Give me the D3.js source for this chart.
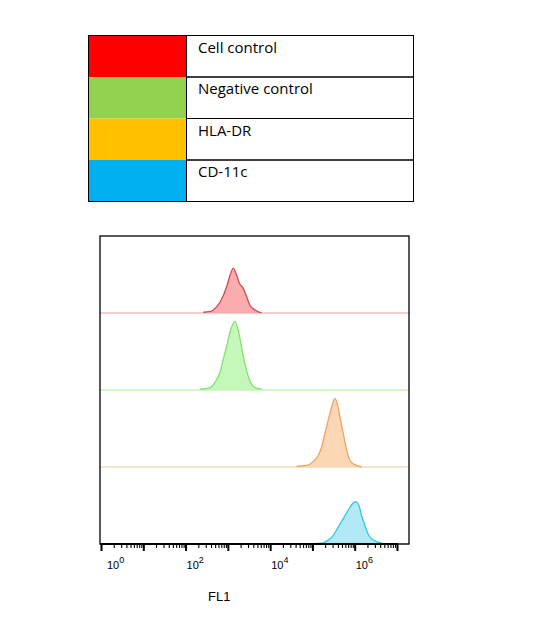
<!DOCTYPE html>
<html lang="en">
	<head>
		<meta charset="utf-8">
		<title>Flow cytometry histograms</title>
		<script type="text/javascript" src="https://cdn.jsdelivr.net/npm/d3@7"></script>
		<style type="text/css">
			body {
				margin: 0;
				background: white;
				}
			.legend text {
				font-family: "Open Sans", sans-serif;
				font-size: 15px;
				fill: black;
				}
			.axis text {
				font-family: "Liberation Sans", Arial, sans-serif;
				font-size: 11px;
				fill: black;
				}
		</style>
	</head>
	<body>
		<script type="text/javascript">

			var w = 536;
			var h = 635;

			// legend entries
			var series = ["Cell control", "Negative control", "HLA-DR", "CD-11c"];
			var legendColors = ["#ff0000", "#92d050", "#ffc000", "#00b0f0"];

			// histogram points: FL1 value and count (0-100 per panel)
			var cellFL1 = [262, 378, 452, 651, 937, 1122, 1342, 1615, 1862, 2314, 2782, 3327, 4371, 6295];
			var cellCount = [1, 2, 4, 14, 34, 49, 58, 49, 39, 32, 21, 10, 4, 0];

			var negFL1 = [219, 378, 495, 651, 779, 937, 1122, 1472, 1762, 2009, 2314, 2782, 3327, 4371, 6295];
			var negCount = [1, 3, 10, 23, 40, 57, 75, 89, 77, 62, 44, 25, 12, 3, 1];

			var hlaFL1 = [42340, 72950, 104400, 137100, 165100, 197600, 236500, 284400, 340400, 394400, 446700, 534600, 643700, 800000, 1109000, 1455000];
			var hlaCount = [1, 2, 7, 15, 26, 44, 61, 78, 89, 80, 65, 44, 22, 7, 2, 0];

			var cdFL1 = [66500, 165100, 236500, 310300, 407400, 534600, 701500, 845300, 1050000, 1256000, 1455000, 1742000, 2168000, 3006000, 4467000];
			var cdCount = [0, 1, 5, 11, 22, 33, 44, 51, 55, 50, 37, 24, 11, 4, 1];

			var tickLabels = [["10", "0"], ["10", "2"], ["10", "4"], ["10", "6"]];
			var tickLabelValues = [1, 100, 10000, 1000000];

			var curves = [
				{fl1: cellFL1, count: cellCount, stroke: "#d9484c", fill: "#f8a4a6", base: "#f19a9c"},
				{fl1: negFL1, count: negCount, stroke: "#7fe66c", fill: "#bff5b2", base: "#a8ee98"},
				{fl1: hlaFL1, count: hlaCount, stroke: "#f1a35a", fill: "#fcd3ad", base: "#f8c695"},
				{fl1: cdFL1, count: cdCount, stroke: "#36c6e2", fill: "#a9e7f5", base: "#7fd8ea"}
			];

			var svg = d3.select("body")
						.append("svg")
						.attr("width", w)
						.attr("height", h);

			//Legend table
			var legendY = d3.scaleBand()
							.domain(series)
							.range([35, 201]);

			var legend = svg.append("g").attr("class", "legend");

			legend.selectAll("rect.swatch")
				.data(series)
				.enter()
				.append("rect")
				.attr("class", "swatch")
				.attr("x", 88.5)
				.attr("y", function(d) { return legendY(d) + 0.5; })
				.attr("width", 98)
				.attr("height", legendY.bandwidth())
				.attr("fill", function(d, i) { return legendColors[i]; });

			legend.selectAll("rect.cell")
				.data(series)
				.enter()
				.append("rect")
				.attr("class", "cell")
				.attr("x", 186.5)
				.attr("y", function(d) { return legendY(d) + 0.5; })
				.attr("width", 227)
				.attr("height", legendY.bandwidth())
				.attr("fill", "none")
				.attr("stroke", "black");

			legend.append("rect")
				.attr("x", 88.5)
				.attr("y", 35.5)
				.attr("width", 325)
				.attr("height", 166)
				.attr("fill", "none")
				.attr("stroke", "black");

			legend.selectAll("text")
				.data(series)
				.enter()
				.append("text")
				.attr("x", 198)
				.attr("y", function(d) { return legendY(d) + 17.5; })
				.text(function(d) { return d; });

			//Histogram panel
			var plotLeft = 100, plotRight = 409, plotTop = 236, plotBottom = 544;

			var xScale = d3.scaleLog()
							.domain([1, 1e7])
							.range([101, 397]);

			var rows = d3.scaleBand()
							.domain(series)
							.range([plotTop, plotBottom]);

			var line = d3.line().curve(d3.curveMonotoneX);
			var area = d3.area().curve(d3.curveMonotoneX);

			curves.forEach(function(c, i) {
				var yScale = d3.scaleLinear()
								.domain([0, 100])
								.range([rows(series[i]) + rows.bandwidth(), rows(series[i])]);

				var pts = c.fl1.map(function(v, j) { return [xScale(v), yScale(c.count[j])]; });

				// flat baseline across the panel
				svg.append("line")
					.attr("x1", plotLeft)
					.attr("x2", plotRight)
					.attr("y1", yScale(0))
					.attr("y2", yScale(0))
					.attr("stroke", c.base)
					.attr("stroke-width", 1.2);

				svg.append("path")
					.attr("d", area.y0(yScale(0))(pts))
					.attr("fill", c.fill)
					.attr("fill-opacity", 0.9);

				svg.append("path")
					.attr("d", line(pts))
					.attr("fill", "none")
					.attr("stroke", c.stroke)
					.attr("stroke-width", 1.3);
			});

			// frame
			svg.append("rect")
				.attr("x", plotLeft)
				.attr("y", plotTop)
				.attr("width", plotRight - plotLeft)
				.attr("height", plotBottom - plotTop)
				.attr("fill", "none")
				.attr("stroke", "black")
				.attr("stroke-width", 1.3);

			// minor + major ticks
			var minorAxis = d3.axisBottom(xScale)
							.tickValues(xScale.ticks())
							.tickSize(4)
							.tickFormat("");

			var majorAxis = d3.axisBottom(xScale)
							.tickValues([1, 10, 100, 1000, 1e4, 1e5, 1e6, 1e7])
							.tickSize(7)
							.tickFormat("");

			svg.append("g")
				.attr("class", "axis")
				.attr("transform", "translate(0," + plotBottom + ")")
				.call(minorAxis)
				.call(function(g) { g.select(".domain").remove(); })
				.selectAll("line")
				.attr("stroke-width", 1.1);

			svg.append("g")
				.attr("class", "axis")
				.attr("transform", "translate(0," + plotBottom + ")")
				.call(majorAxis)
				.call(function(g) {
					g.select(".domain").attr("d", "M" + plotLeft + ",0H398").attr("stroke-width", 2.2);
				})
				.selectAll("line")
				.attr("stroke-width", 2);

			// labels 10^n
			var labels = svg.append("g").attr("class", "axis");
			var lab = labels.selectAll("text")
				.data(tickLabels)
				.enter()
				.append("text")
				.attr("x", function(d, i) { return xScale(tickLabelValues[i]) + (i == 0 ? 6 : 1); })
				.attr("y", 569);

			lab.append("tspan").text(function(d) { return d[0]; });
			lab.append("tspan")
				.attr("dy", -6)
				.attr("font-size", "9px")
				.text(function(d) { return d[1]; });

			svg.append("text")
				.attr("x", 208)
				.attr("y", 601)
				.attr("font-family", "Liberation Sans, Arial, sans-serif")
				.attr("font-size", "13px")
				.text("FL1");

		</script>
	</body>
</html>
